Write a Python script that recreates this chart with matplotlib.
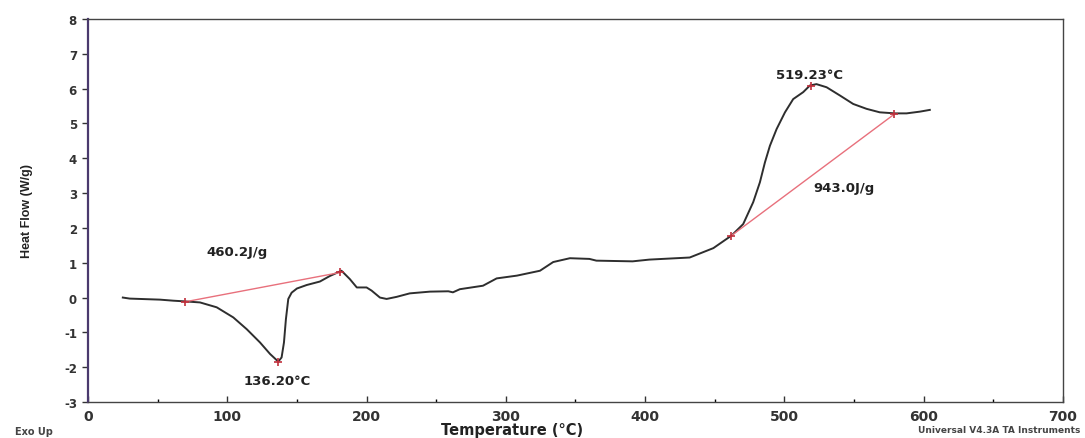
import numpy as np
import matplotlib.pyplot as plt
from matplotlib.ticker import MultipleLocator

# DSC trace, temperature (°C) vs heat flow (W/g)
temp = [25, 30, 51.7, 61.2, 69.6, 80.4, 92.4, 104.3, 114, 123.5, 130.7, 136.6,
        139, 140.7, 142.1, 143.8, 146.2, 150, 157, 166.5, 173.7, 182, 188, 193,
        200, 203.6, 209.6, 214.4, 221.6, 231, 245.5, 258.7, 262, 267, 283.6,
        293.4, 308, 324.5, 334, 346, 360, 365, 391, 403, 432, 449, 462, 470.4,
        477.6, 482.4, 486, 489.6, 494.4, 500.4, 506.3, 513.5, 518.3, 523,
        530.3, 540, 549.4, 559, 568.5, 579.3, 587.7, 597.3, 604.4]
heat_flow = [0.0, -0.03, -0.06, -0.09, -0.11, -0.14, -0.28, -0.57, -0.91, -1.29,
             -1.62, -1.84, -1.72, -1.29, -0.62, -0.04, 0.14, 0.26, 0.36, 0.46,
             0.62, 0.77, 0.53, 0.29, 0.29, 0.2, 0.0, -0.04, 0.02, 0.12, 0.17,
             0.18, 0.15, 0.24, 0.34, 0.55, 0.63, 0.77, 1.02, 1.13, 1.11, 1.06,
             1.04, 1.09, 1.15, 1.42, 1.78, 2.11, 2.74, 3.31, 3.88, 4.36, 4.84,
             5.32, 5.70, 5.90, 6.09, 6.13, 6.04, 5.80, 5.56, 5.42, 5.32, 5.29,
             5.29, 5.34, 5.39]

# integration baselines
base1_t = [70, 181]
base1_y = [-0.12, 0.72]
base2_t = [462, 579]
base2_y = [1.78, 5.27]

peak_t = [136.2, 519.23]
peak_y = [-1.84, 6.09]

plt.rcParams['font.family'] = ['DejaVu Sans']
plt.rcParams['axes.unicode_minus'] = False

fig = plt.figure(figsize=(10.85, 4.39), dpi=100)
ax = fig.add_axes([0.0811, 0.082, 0.8986, 0.8724])

ax.plot(temp, heat_flow, color='#2e2e2e', lw=1.4)
ax.plot(base1_t, base1_y, color='#e8707c', lw=1.0, marker='+', ms=6,
        mec='#c0303c', mew=1.2)
ax.plot(base2_t, base2_y, color='#e8707c', lw=1.0, marker='+', ms=6,
        mec='#c0303c', mew=1.2)
ax.plot(peak_t, peak_y, ls='none', marker='+', ms=6, mec='#c0303c', mew=1.2)

txt = dict(fontsize=9.5, fontweight='bold', color='#222222', ha='center', va='center')
ax.text(107, 1.31, '460.2J/g', **txt)
ax.text(136, -2.37, '136.20°C', **txt)
ax.text(518, 6.42, '519.23°C', **txt)
ax.text(543, 3.17, '943.0J/g', **txt)

ax.set_xlim(0, 700)
ax.set_ylim(-3, 8)
ax.xaxis.set_major_locator(MultipleLocator(100))
ax.xaxis.set_minor_locator(MultipleLocator(50))
ax.yaxis.set_major_locator(MultipleLocator(1))
ax.tick_params(axis='x', direction='in', length=4, width=1, pad=5,
               labelsize=10, colors='#333333')
ax.tick_params(axis='x', which='minor', direction='in', length=2, width=1)
ax.tick_params(axis='y', direction='out', length=4, width=1, pad=4,
               labelsize=8.5, colors='#333333')
for lab in ax.get_xticklabels() + ax.get_yticklabels():
    lab.set_fontweight('bold')

for side in ['top', 'right', 'bottom']:
    ax.spines[side].set_color('#444444')
    ax.spines[side].set_linewidth(1.0)
ax.spines['left'].set_color('#4a3a6e')
ax.spines['left'].set_linewidth(1.6)

fig.text(0.025, 0.52, 'Heat Flow (W/g)', fontsize=9, fontweight='bold',
         family='Liberation Sans', rotation=90, ha='center', va='center',
         color='#222222')
fig.text(0.472, 0.02, 'Temperature (°C)', fontsize=10.5, fontweight='bold',
         ha='center', va='center', color='#222222')
fig.text(0.014, 0.016, 'Exo Up', fontsize=7, fontweight='bold',
         ha='left', va='center', color='#444444')
fig.text(0.996, 0.02, 'Universal V4.3A TA Instruments', fontsize=6.5,
         fontweight='bold', ha='right', va='center', color='#444444')

fig.savefig('out.png', dpi=100)
